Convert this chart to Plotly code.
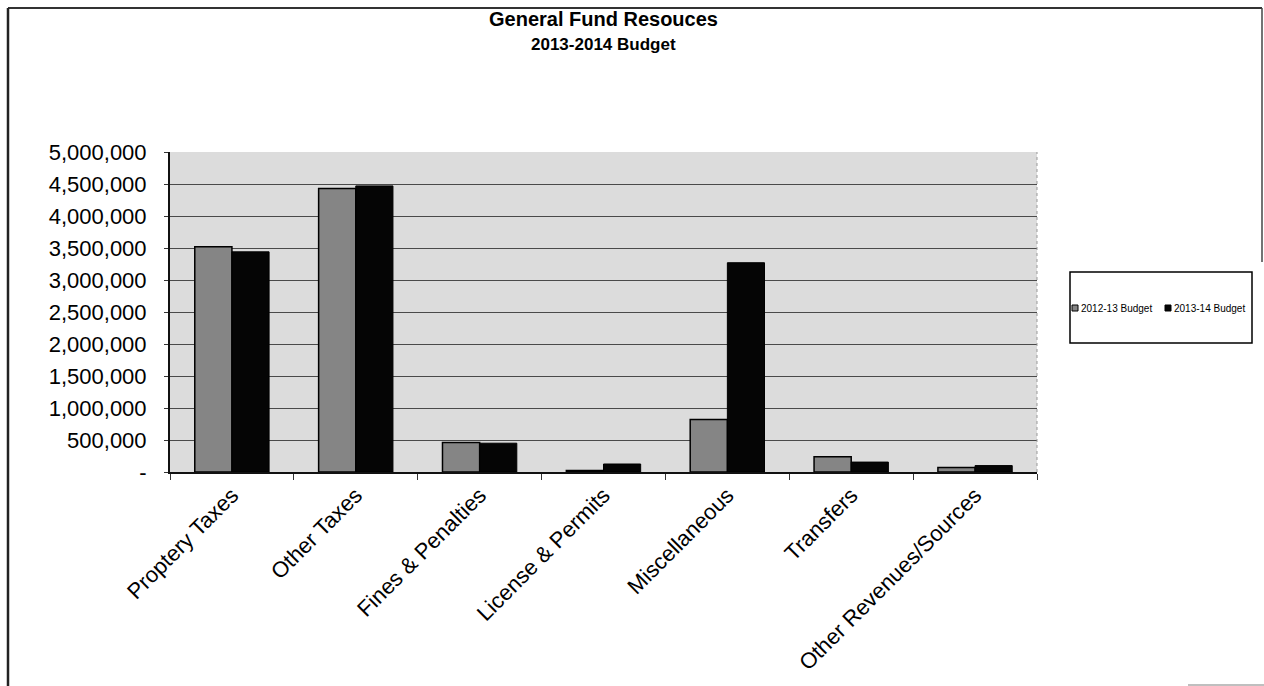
import plotly.graph_objects as go

# Revenue categories and budget amounts (dollars)
categories = [
    "Proptery Taxes", "Other Taxes", "Fines & Penalties", "License & Permits",
    "Miscellaneous", "Transfers", "Other Revenues/Sources",
]
budget_2012_13 = [3520000, 4430000, 460000, 25000, 820000, 240000, 70000]
budget_2013_14 = [3440000, 4470000, 450000, 125000, 3270000, 155000, 100000]
series_names = ["2012-13 Budget", "2013-14 Budget"]
series_colors = ["#858585", "#050505"]

y_tick_values = [0, 500000, 1000000, 1500000, 2000000, 2500000,
                 3000000, 3500000, 4000000, 4500000, 5000000]
y_tick_labels = ["-", "500,000", "1,000,000", "1,500,000", "2,000,000", "2,500,000",
                 "3,000,000", "3,500,000", "4,000,000", "4,500,000", "5,000,000"]

W, H = 1264, 686
L, R, T, B = 170, 1037, 152, 472   # plot area in pixels
PW, PH = R - L, B - T


def px(x):
    return (x - L) / PW


def py(y):
    return (B - y) / PH


FONT = "Liberation Sans, Arial, sans-serif"

fig = go.Figure()
for name, values, color, lw in zip(series_names, [budget_2012_13, budget_2013_14],
                                   series_colors, [1.5, 1]):
    fig.add_trace(go.Bar(
        x=categories, y=values, name=name,
        marker=dict(color=color, line=dict(color="#000000", width=lw)),
    ))

shapes = [
    # outer chart frame
    dict(type="line", xref="paper", yref="paper", x0=px(8), x1=px(1262), y0=py(8), y1=py(8),
         line=dict(color="#333333", width=2)),
    dict(type="line", xref="paper", yref="paper", x0=px(8), x1=px(8), y0=py(8), y1=py(690),
         line=dict(color="#222222", width=2.5)),
    dict(type="line", xref="paper", yref="paper", x0=px(1262), x1=px(1262), y0=py(8), y1=py(262),
         line=dict(color="#444444", width=1.5)),
    dict(type="line", xref="paper", yref="paper", x0=px(1188), x1=px(1266), y0=py(685), y1=py(685),
         line=dict(color="#aaaaaa", width=1.5)),
    # legend box
    dict(type="rect", xref="paper", yref="paper", x0=px(1070), x1=px(1252), y0=py(343), y1=py(272),
         line=dict(color="#000000", width=1.5), fillcolor="white"),
    # right edge of plot area
    dict(type="line", xref="paper", yref="paper", x0=1, x1=1, y0=0, y1=1,
         line=dict(color="#999999", width=1, dash="dot")),
]

annotations = [
    dict(text="<b>General Fund Resouces</b>", xref="paper", yref="paper",
         x=px(603), y=py(19), showarrow=False, xanchor="center", yanchor="middle",
         font=dict(family=FONT, size=20, color="black")),
    dict(text="<b>2013-2014 Budget</b>", xref="paper", yref="paper",
         x=px(603), y=py(45), showarrow=False, xanchor="center", yanchor="middle",
         font=dict(family=FONT, size=17, color="black")),
]

# legend entries: small swatch followed by the series name
legend_x = [1072, 1165]
for name, color, x0 in zip(series_names, series_colors, legend_x):
    shapes.append(dict(type="rect", xref="paper", yref="paper",
                       x0=px(x0), x1=px(x0 + 6), y0=py(311), y1=py(305),
                       fillcolor=color, line=dict(color="#000000", width=1)))
    annotations.append(dict(text=name, xref="paper", yref="paper",
                            x=px(x0 + 7), y=py(308), showarrow=False,
                            xanchor="left", yanchor="middle",
                            font=dict(family=FONT, size=10, color="black")))

fig.update_layout(
    width=W, height=H,
    margin=dict(l=L, r=W - R, t=T, b=H - B, pad=0, autoexpand=False),
    paper_bgcolor="white",
    plot_bgcolor="#dcdcdc",
    barmode="group", bargap=0.4, bargroupgap=0,
    font=dict(family=FONT, color="black"),
    shapes=shapes,
    annotations=annotations,
    showlegend=False,
    xaxis=dict(
        type="category", tickangle=-45, tickson="boundaries",
        ticks="outside", ticklen=6, tickcolor="#333333",
        showline=True, linecolor="#111111", linewidth=1.5,
        showgrid=False,
        tickfont=dict(family=FONT, size=22, color="black"),
    ),
    yaxis=dict(
        range=[0, 5000000], tickvals=y_tick_values, ticktext=y_tick_labels,
        ticks="outside", ticklen=4, tickcolor="#333333",
        showline=True, linecolor="#111111", linewidth=2,
        showgrid=True, gridcolor="#4a4a4a", gridwidth=1,
        zeroline=False,
        ticklabelstandoff=13,
        tickfont=dict(family=FONT, size=22, color="black"),
    ),
)

fig.write_html("out.html")
